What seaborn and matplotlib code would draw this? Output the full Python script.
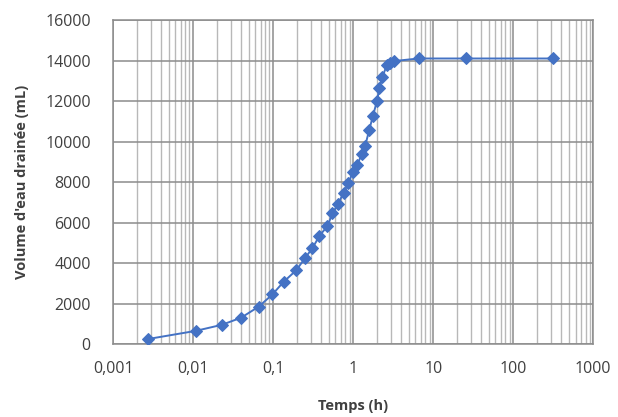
import matplotlib
matplotlib.use("Agg")
import matplotlib.pyplot as plt
import matplotlib.ticker as mticker
import seaborn as sns
import pandas as pd

# Drainage test: cumulative drained water volume vs. time
temps_h = [0.00276, 0.0108, 0.0229, 0.0398, 0.0662, 0.098, 0.135, 0.194,
           0.251, 0.31, 0.379, 0.477, 0.551, 0.644, 0.757, 0.873, 0.99,
           1.11, 1.28, 1.41, 1.585, 1.76, 1.98, 2.13, 2.32, 2.64, 2.9,
           3.19, 6.55, 25.8, 313.0]
volume_ml = [250, 650, 950, 1300, 1850, 2450, 3070, 3640, 4250, 4740,
             5340, 5830, 6450, 6910, 7460, 7950, 8490, 8820, 9360, 9770,
             10570, 11240, 12000, 12630, 13180, 13800, 13880, 13970,
             14100, 14100, 14100]

x_ticks = [0.001, 0.01, 0.1, 1, 10, 100, 1000]
x_tick_labels = ["0,001", "0,01", "0,1", "1", "10", "100", "1000"]
y_ticks = list(range(0, 16001, 2000))

df = pd.DataFrame({"Temps (h)": temps_h, "Volume": volume_ml})

sns.set_style("white")
plt.rcParams["font.family"] = ["Open Sans", "DejaVu Sans"]

fig = plt.figure(figsize=(6.18, 4.17), dpi=100)
ax = fig.add_axes([0.183, 0.175, 0.777, 0.777])

blue = "#4472C4"
sns.lineplot(data=df, x="Temps (h)", y="Volume", ax=ax, sort=False,
             color=blue, linewidth=1.4, marker="D", markersize=6,
             markeredgecolor=blue, markerfacecolor=blue, zorder=3)

ax.set_xscale("log")
ax.set_xlim(0.001, 1000)
ax.set_ylim(0, 16000)
ax.set_xticks(x_ticks)
ax.set_xticklabels(x_tick_labels)
ax.xaxis.set_minor_locator(mticker.LogLocator(base=10, subs=range(2, 10), numticks=20))
ax.xaxis.set_minor_formatter(mticker.NullFormatter())
ax.set_yticks(y_ticks)
ax.set_yticklabels([str(v) for v in y_ticks])

ax.grid(True, which="major", axis="both", color="#8c8c8c", linewidth=1.1)
ax.grid(True, which="minor", axis="x", color="#b8b8b8", linewidth=1.0)
ax.set_axisbelow(True)

for side in ax.spines.values():
    side.set_color("#8c8c8c")
    side.set_linewidth(1.1)

ax.tick_params(axis="both", which="both", length=0, labelsize=11.5,
               labelcolor="#404040")
ax.tick_params(axis="x", pad=12)
ax.tick_params(axis="y", pad=16)

ax.set_xlabel("Temps (h)", fontsize=10.5, fontweight="bold", color="#404040", labelpad=16)
ax.set_ylabel("Volume d'eau drainée (mL)", fontsize=10.5, fontweight="bold",
              color="#404040", labelpad=12)

fig.savefig("out.png", dpi=100)
